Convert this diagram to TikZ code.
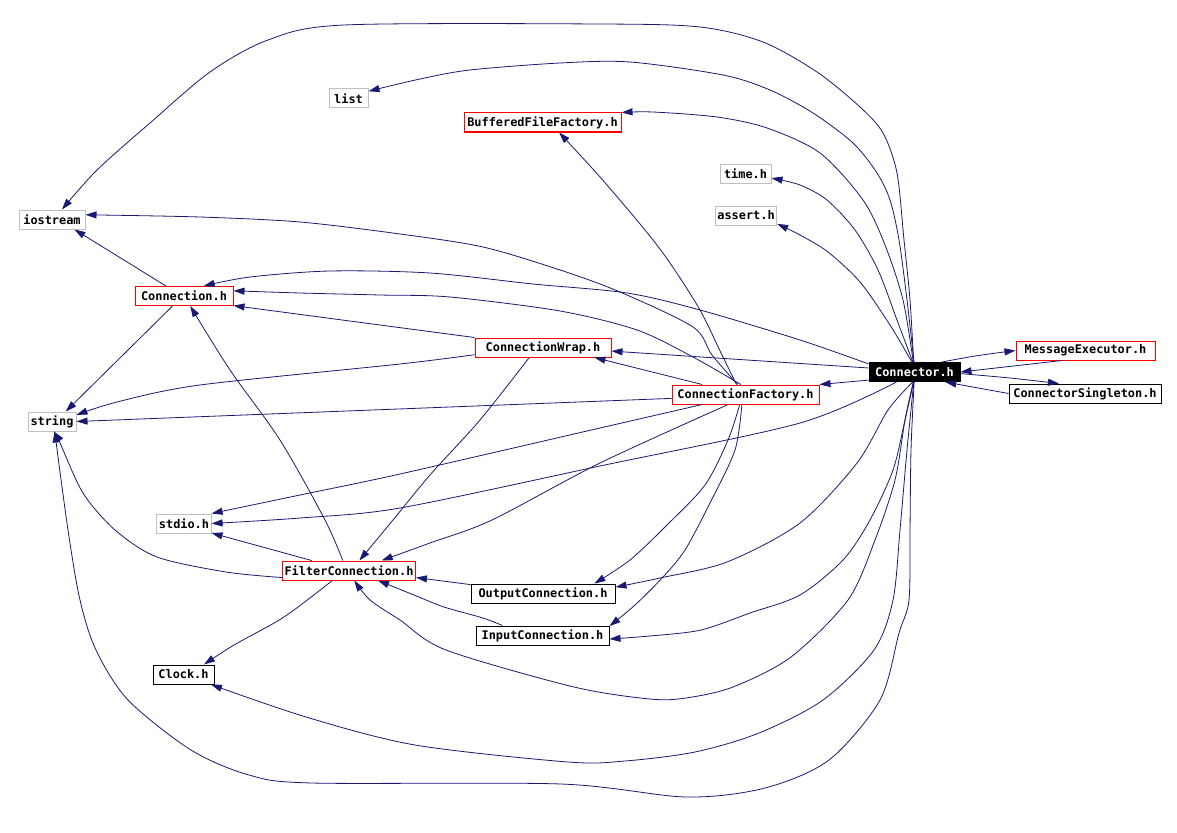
\documentclass[tikz,border=0pt]{standalone}
\usepackage{fontspec}
\newfontfamily\lblfont{DejaVu Sans Mono}
\usetikzlibrary{arrows.meta}
\definecolor{edgec}{RGB}{25,25,112}
\definecolor{graybd}{RGB}{191,191,191}
\tikzset{
  box/.style={draw, line width=1pt, inner xsep=2pt, inner ysep=0pt, minimum height=19pt,
    font=\lblfont\bfseries\fontsize{11.9}{12}\selectfont, fill=white},
  graybox/.style={box, draw=graybd},
  redbox/.style={box, draw=red},
  blackbox/.style={box, draw=black},
  rootbox/.style={box, draw=black, fill=black, text=white},
  e/.style={draw=edgec, line width=0.8pt, -{Triangle[length=11pt,width=7pt]}},
}
\begin{document}
\begin{tikzpicture}[x=1pt,y=-1pt]
\fill[white] (0,0) rectangle (1177,832);
\useasboundingbox (0,0) rectangle (1177,832);
% nodes
\node[graybox, minimum width=39pt] (list) at (348.5,98.5) {list};
\node[redbox, minimum width=157pt] (BFF) at (542.5,122.5) {BufferedFileFactory.h};
\node[graybox, minimum width=51pt] (time) at (745.5,173.5) {time.h};
\node[graybox, minimum width=60pt] (assert) at (746,215.5) {assert.h};
\node[graybox, minimum width=66pt] (iostream) at (52,219.5) {iostream};
\node[redbox, minimum width=98pt] (Connection) at (184,296) {Connection.h};
\node[redbox, minimum width=136pt] (CW) at (543,347.5) {ConnectionWrap.h};
\node[rootbox, minimum width=91pt] (Connector) at (914.5,372) {Connector.h};
\node[redbox, minimum width=139pt] (ME) at (1085.5,350.5) {MessageExecutor.h};
\node[blackbox, minimum width=152pt] (CS) at (1085,393.5) {ConnectorSingleton.h};
\node[redbox, minimum width=147pt] (CF) at (745.5,394.5) {ConnectionFactory.h};
\node[graybox, minimum width=48pt] (string) at (52,421.5) {string};
\node[graybox, minimum width=54pt] (stdio) at (184,523.5) {stdio.h};
\node[redbox, minimum width=132pt] (FC) at (349,570.5) {FilterConnection.h};
\node[blackbox, minimum width=144pt] (OC) at (543,593.5) {OutputConnection.h};
\node[blackbox, minimum width=133pt] (IC) at (542.5,635.5) {InputConnection.h};
\node[blackbox, minimum width=61pt] (Clock) at (183.5,674.5) {Clock.h};

% Connector.h edges
\draw[e] plot[smooth] coordinates {(Connector.95) (910,300) (904,240) (897,173) (883,133) (860,107) (817,72) (763,42) (700,27) (600,24) (344,25) (268,40) (210,72) (150,123) (97,170) (iostream.45)};
\draw[e] plot[smooth] coordinates {(Connector.93) (907,300) (899,240) (890,200) (877,173) (853,143) (813,113) (770,90) (723,75) (630,62) (560,63) (470,70) (420,79) (list.20)};
\draw[e] plot[smooth] coordinates {(Connector.97) (903,300) (885,245) (863,200) (820,153) (767,128) (717,117) (653,112) (BFF.north east)};
\draw[e] plot[smooth] coordinates {(Connector.100) (897,320) (878,270) (855,230) (827,200) (800,185) (time.-10)};
\draw[e] plot[smooth] coordinates {(Connector.105) (890,325) (860,282) (828,252) (800,235) (assert.-15)};
\draw[e] plot[smooth] coordinates {(Connector.170) (800,340) (700,310) (627,293) (533,284) (430,273) (330,271) (250,277) (Connection.27)};
\draw[e] (Connector.175) -- (CW.-3);
\draw[e] (Connector.-170) -- (CF.north east);
\draw[e] plot[smooth] coordinates {(Connector.20) (975,356) (ME.west)};
\draw[e] (ME.-157) -- (Connector.east);
\draw[e] plot[smooth] coordinates {(Connector.-2) (1010,378) (CS.159)};
\draw[e] (CS.west) -- (Connector.-18);
\draw[e] plot[smooth] coordinates {(Connector.-151) (800,423) (600,466) (400,508) (300,518) (stdio.east)};
\draw[e] plot[smooth] coordinates {(Connector.-92) (911,450) (910,530) (909,600) (899,633) (880,700) (829,760) (765,788) (686,797) (561,784) (312,783) (249,775) (191,750) (128,700) (96,650) (80,600) (68,530) (string.-75)};
\draw[e] plot[smooth] coordinates {(Connector.-94) (907,450) (900,530) (893,600) (874,650) (823,700) (759,733) (695,752) (625,761) (568,762) (415,745) (306,717) (Clock.-20)};
\draw[e] plot[smooth] coordinates {(Connector.-97) (905,420) (895,480) (875,540) (848,600) (791,657) (733,687) (686,698) (650,699) (574,687) (446,650) (400,620) (370,600) (FC.-62)};
\draw[e] plot[smooth] coordinates {(Connector.-95) (905,420) (893,470) (870,520) (843,560) (800,595) (750,613) (701,630) (650,636) (IC.-3)};
\draw[e] plot[smooth] coordinates {(Connector.-100) (888,410) (857,463) (800,523) (727,562) (660,578) (OC.5)};

% ConnectionFactory.h edges
\draw[e] plot[smooth] coordinates {(CF.128) (712,355) (693,327) (620,292) (560,270) (483,247) (400,234) (300,222) (200,217) (iostream.8)};
\draw[e] plot[smooth] coordinates {(CF.115) (693,357) (637,330) (560,311) (450,297) (380,295) (300,293) (Connection.6)};
\draw[e] (CF.167) -- (CW.-11);
\draw[e] (CF.-177) -- (string.east);
\draw[e] plot[smooth] coordinates {(CF.-167) (600,428) (400,474) (300,495) (stdio.north east)};
\draw[e] plot[smooth] coordinates {(CF.-150) (600,463) (492,520) (430,543) (FC.17)};
\draw[e] plot[smooth] coordinates {(CF.132) (722,355) (700,310) (670,263) (645,230) (600,177) (BFF.-31)};
\draw[e] plot[smooth] coordinates {(CF.-120) (728,440) (705,485) (667,525) (630,560) (OC.11)};
\draw[e] plot[smooth] coordinates {(CF.-110) (735,450) (710,503) (685,550) (663,577) (635,605) (IC.8)};

% other edges
\draw[e] (Connection.151) -- (iostream.-24);
\draw[e] (Connection.-139) -- (string.36);
\draw[e] (CW.north west) -- (Connection.-11);
\draw[e] plot[smooth] coordinates {(CW.-174) (400,364) (200,385) (117,402) (string.15)};
\draw[e] plot[smooth] coordinates {(CW.-144) (480,420) (430,475) (393,520) (FC.44)};
\draw[e] plot[smooth] coordinates {(FC.122) (325,520) (280,440) (230,370) (Connection.-58)};
\draw[e] (FC.165) -- (stdio.-19);
\draw[e] plot[smooth] coordinates {(FC.-174) (226,572) (157,557) (115,530) (83,493) (60,443) (string.-80)};
\draw[e] plot[smooth] coordinates {(FC.-149) (284,617) (234,645) (Clock.26)};
\draw[e] (OC.173) -- (FC.-6);
\draw[e] plot[smooth] coordinates {(IC.166) (483,618) (444,607) (414,595) (FC.-19)};
\end{tikzpicture}
\end{document}
